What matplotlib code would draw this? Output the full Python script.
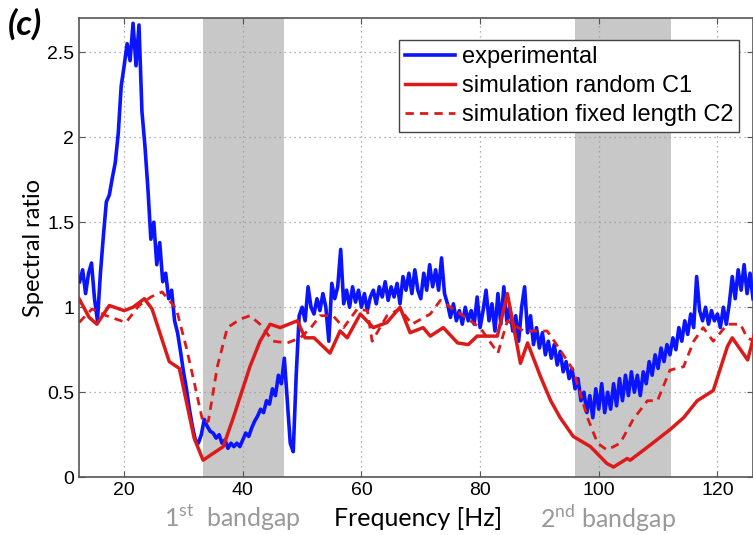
import numpy as np
import matplotlib.pyplot as plt

# experimental spectral ratio, sampled every 0.5 Hz from 12.5 Hz to 126 Hz
freq_exp = np.arange(12.5, 126.01, 0.5)
ratio_exp = [
    1.15, 1.22, 1.08, 1.20, 1.26, 1.05, 0.92, 1.20, 1.42, 1.62,
    1.66, 1.76, 1.85, 2.02, 2.30, 2.42, 2.55, 2.45, 2.67, 2.42,
    2.66, 2.15, 1.95, 1.70, 1.40, 1.50, 1.25, 1.38, 1.15, 1.20,
    1.05, 1.10, 0.92, 0.85, 0.74, 0.62, 0.52, 0.40, 0.30, 0.22,
    0.20, 0.25, 0.34, 0.30, 0.27, 0.26, 0.23, 0.25, 0.20, 0.22,
    0.17, 0.20, 0.18, 0.20, 0.18, 0.22, 0.26, 0.24, 0.29, 0.33,
    0.36, 0.40, 0.38, 0.45, 0.43, 0.52, 0.48, 0.60, 0.55, 0.70,
    0.45, 0.20, 0.15, 0.60, 0.95, 1.00, 0.92, 1.12, 1.00, 0.96,
    1.05, 0.98, 1.08, 1.00, 0.80, 1.14, 1.05, 1.12, 1.34, 1.02,
    1.10, 1.00, 1.12, 1.03, 1.10, 1.00, 1.08, 0.98, 1.06, 1.10,
    1.02, 1.12, 1.06, 1.15, 1.04, 1.12, 1.06, 1.14, 1.02, 1.18,
    1.10, 1.20, 1.08, 1.22, 1.10, 1.05, 1.20, 1.10, 1.25, 1.12,
    1.22, 1.10, 1.29, 1.08, 1.02, 0.94, 1.02, 0.92, 0.98, 0.90,
    1.00, 0.92, 0.98, 0.90, 1.06, 0.88, 0.98, 1.10, 0.92, 1.02,
    0.86, 1.08, 0.90, 1.12, 0.92, 1.00, 0.86, 0.95, 0.80, 1.00,
    1.12, 0.85, 0.95, 0.78, 0.88, 0.76, 0.85, 0.72, 0.80, 0.70,
    0.78, 0.66, 0.74, 0.62, 0.68, 0.58, 0.64, 0.52, 0.58, 0.45,
    0.50, 0.38, 0.48, 0.35, 0.52, 0.40, 0.55, 0.38, 0.50, 0.40,
    0.55, 0.42, 0.58, 0.45, 0.60, 0.48, 0.62, 0.50, 0.60, 0.48,
    0.62, 0.55, 0.68, 0.60, 0.72, 0.64, 0.76, 0.68, 0.78, 0.72,
    0.82, 0.75, 0.88, 0.80, 0.92, 0.84, 0.96, 0.88, 1.18, 0.98,
    0.92, 1.00, 0.90, 0.98, 0.92, 0.96, 0.88, 1.00, 0.90, 1.02,
    1.18, 1.05, 1.22, 1.10, 1.25, 1.08, 1.20, 1.05,
]

# simulation, random lengths (C1)
freq_c1 = [12.4, 14.1, 15.4, 17.5, 20.0, 21.5, 23.4, 24.7, 27.6, 29.3,
           31.8, 33.3, 36.7, 38.4, 41.2, 42.9, 44.6, 46.3, 49.2, 50.5,
           52.0, 54.7, 56.4, 57.6, 59.8, 62.0, 64.3, 66.5, 68.2, 70.4,
           71.6, 73.8, 76.2, 78.0, 79.5, 82.9, 84.6, 86.8, 88.0, 90.2,
           91.9, 93.5, 95.7, 98.6, 101.4, 102.5, 104.8, 105.3, 108.7, 112.0,
           114.3, 116.6, 119.3, 121.7, 122.5, 125.1, 126.3]
ratio_c1 = [1.05, 0.94, 0.90, 1.01, 0.98, 1.00, 1.05, 0.99, 0.68, 0.64,
            0.23, 0.10, 0.18, 0.35, 0.65, 0.80, 0.90, 0.88, 0.92, 0.82,
            0.82, 0.73, 0.86, 0.82, 0.96, 0.88, 0.91, 1.00, 0.85, 0.88,
            0.83, 0.88, 0.79, 0.78, 0.83, 0.83, 1.08, 0.67, 0.79, 0.59,
            0.45, 0.35, 0.24, 0.18, 0.08, 0.06, 0.11, 0.10, 0.19, 0.28,
            0.35, 0.45, 0.51, 0.77, 0.82, 0.69, 0.85]

# simulation, fixed length (C2)
freq_c2 = [12.4, 14.6, 17.0, 20.3, 22.5, 24.5, 26.4, 28.8, 30.5, 31.8,
           33.3, 34.2, 35.7, 37.4, 39.6, 41.2, 42.9, 45.1, 47.5, 49.7,
           51.5, 53.0, 55.2, 57.0, 59.3, 61.0, 61.8, 64.3, 66.5, 68.5,
           71.6, 73.3, 76.7, 80.0, 83.0, 84.6, 87.3, 91.3, 92.7, 95.7,
           98.1, 99.8, 101.4, 103.6, 105.8, 108.2, 109.9, 112.0, 114.3, 116.0,
           117.6, 119.3, 121.7, 123.9, 125.0, 126.3]
ratio_c2 = [0.91, 0.99, 0.95, 0.91, 1.01, 1.06, 1.09, 0.99, 0.76, 0.56,
            0.32, 0.33, 0.65, 0.88, 0.93, 0.95, 0.90, 0.80, 0.79, 0.82,
            0.88, 0.95, 0.95, 0.88, 0.99, 0.98, 0.80, 0.95, 0.99, 0.90,
            0.96, 1.04, 0.96, 0.88, 0.73, 0.92, 0.86, 0.86, 0.79, 0.63,
            0.35, 0.20, 0.16, 0.20, 0.34, 0.45, 0.45, 0.63, 0.65, 0.80,
            0.88, 0.80, 0.90, 0.90, 0.82, 0.80]

bandgaps = [(33.3, 47.0), (96.0, 112.2)]
xticks = [20, 40, 60, 80, 100, 120]
yticks = [0, 0.5, 1, 1.5, 2, 2.5]
ytick_labels = ['0', '0.5', '1', '1.5', '2', '2.5']

plt.rcParams['font.family'] = ['Liberation Sans', 'DejaVu Sans']

fig = plt.figure(figsize=(7.53, 5.35), dpi=100)
ax = fig.add_axes([0.105, 0.108, 0.895, 0.858])

for lo, hi in bandgaps:
    ax.axvspan(lo, hi, color='#c8c8c8', lw=0, zorder=0)

ax.plot(freq_exp, ratio_exp, color='#0a14ff', lw=2.6, label='experimental', zorder=3)
ax.plot(freq_c1, ratio_c1, color='#dd1a1a', lw=2.5, label='simulation random C1', zorder=4)
ax.plot(freq_c2, ratio_c2, color='#dd1a1a', lw=2.0, ls=(0, (3, 2.2)),
        label='simulation fixed length C2', zorder=4)

ax.set_xlim(12.4, 126.0)
ax.set_ylim(0, 2.7)
ax.set_xticks(xticks)
ax.set_yticks(yticks)
ax.set_yticklabels(ytick_labels)
ax.tick_params(direction='in', length=4, labelsize=14, width=0.8,
               top=True, right=True, color='#555555')
ax.grid(True, ls=(0, (1, 3)), color='#999999', lw=0.9)
for s in ax.spines.values():
    s.set_color('#555555')
    s.set_linewidth(1.2)

leg = ax.legend(loc='upper right', bbox_to_anchor=(0.997, 0.978), fontsize=17,
                handlelength=2.1, handletextpad=0.3, borderpad=0.25,
                labelspacing=0.3, fancybox=False, framealpha=1)
leg.get_frame().set_edgecolor('#444444')
leg.get_frame().set_linewidth(1.0)

ax.set_ylabel('Spectral ratio', fontsize=17, family='Lato', labelpad=2)
fig.text(0.555, 0.031, 'Frequency [Hz]', fontsize=18, family='Lato',
         ha='center', va='center')
fig.text(0.308, 0.031, '1$^{\\mathregular{st}}$  bandgap', fontsize=18, family='Lato',
         color='#999999', ha='center', va='center')
fig.text(0.807, 0.031, '2$^{\\mathregular{nd}}$ bandgap', fontsize=18, family='Lato',
         color='#999999', ha='center', va='center')
fig.text(0.010, 0.955, '(c)', fontsize=25, style='italic', weight='bold',
         family='Lato', ha='left', va='center')

fig.savefig('out.png', dpi=100)
